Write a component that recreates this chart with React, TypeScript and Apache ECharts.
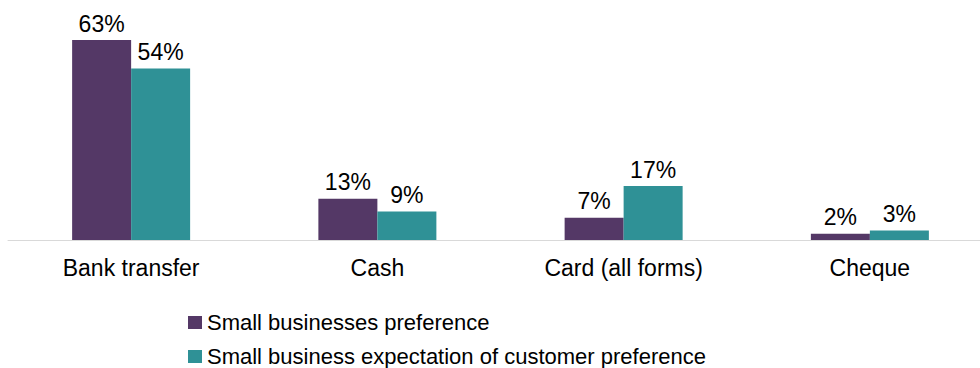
import React, { useEffect, useRef } from "react";
import * as echarts from "echarts";

const categories = ["Bank transfer", "Cash", "Card (all forms)", "Cheque"];
const seriesNames = [
  "Small businesses preference",
  "Small business expectation of customer preference",
];
const smallBusinessPref = [63, 13, 7, 2];
const customerPrefExpectation = [54, 9, 17, 3];

export default function App() {
  const ref = useRef<HTMLDivElement>(null);
  useEffect(() => {
    if (!ref.current) return;
    const chart = echarts.init(ref.current, undefined, { renderer: "svg" });
    const font = "Liberation Sans, Arial, sans-serif";
    const label = {
      show: true,
      position: "top" as const,
      formatter: "{c}%",
      color: "#000",
      fontSize: 23,
      fontFamily: font,
      distance: 5,
    };
    const legendBase = {
      orient: "horizontal" as const,
      left: 183,
      itemWidth: 14,
      itemHeight: 13,
      itemGap: 11,
      icon: "rect",
      textStyle: { fontSize: 22, lineHeight: 23, color: "#000", fontFamily: font },
    };
    chart.setOption({
      animation: false,
      textStyle: { fontFamily: font },
      grid: { left: 8, width: 985, top: 40, height: 200, containLabel: false },
      legend: [
        { ...legendBase, top: 306, data: [seriesNames[0]] },
        { ...legendBase, top: 340, data: [seriesNames[1]] },
      ],
      xAxis: {
        type: "category",
        data: categories,
        axisLine: { lineStyle: { color: "#d9d9d9", width: 1 } },
        axisTick: { show: false },
        axisLabel: { color: "#000", fontSize: 23, margin: 16, fontFamily: font },
      },
      yAxis: {
        type: "value",
        min: 0,
        max: 63,
        show: false,
        splitLine: { show: false },
      },
      series: [
        {
          name: seriesNames[0],
          type: "bar",
          data: smallBusinessPref,
          barWidth: 59,
          barGap: "0%",
          itemStyle: { color: "#543866" },
          label,
        },
        {
          name: seriesNames[1],
          type: "bar",
          data: customerPrefExpectation,
          barWidth: 59,
          barGap: "0%",
          itemStyle: { color: "#2f9196" },
          label,
        },
      ],
    });
    return () => chart.dispose();
  }, []);
  return (
    <div
      style={{
        position: "absolute",
        left: 0,
        top: 0,
        width: 980,
        height: 368,
        overflow: "hidden",
        background: "#fff",
      }}
    >
      <div ref={ref} style={{ width: 1000, height: 368 }} />
    </div>
  );
}
